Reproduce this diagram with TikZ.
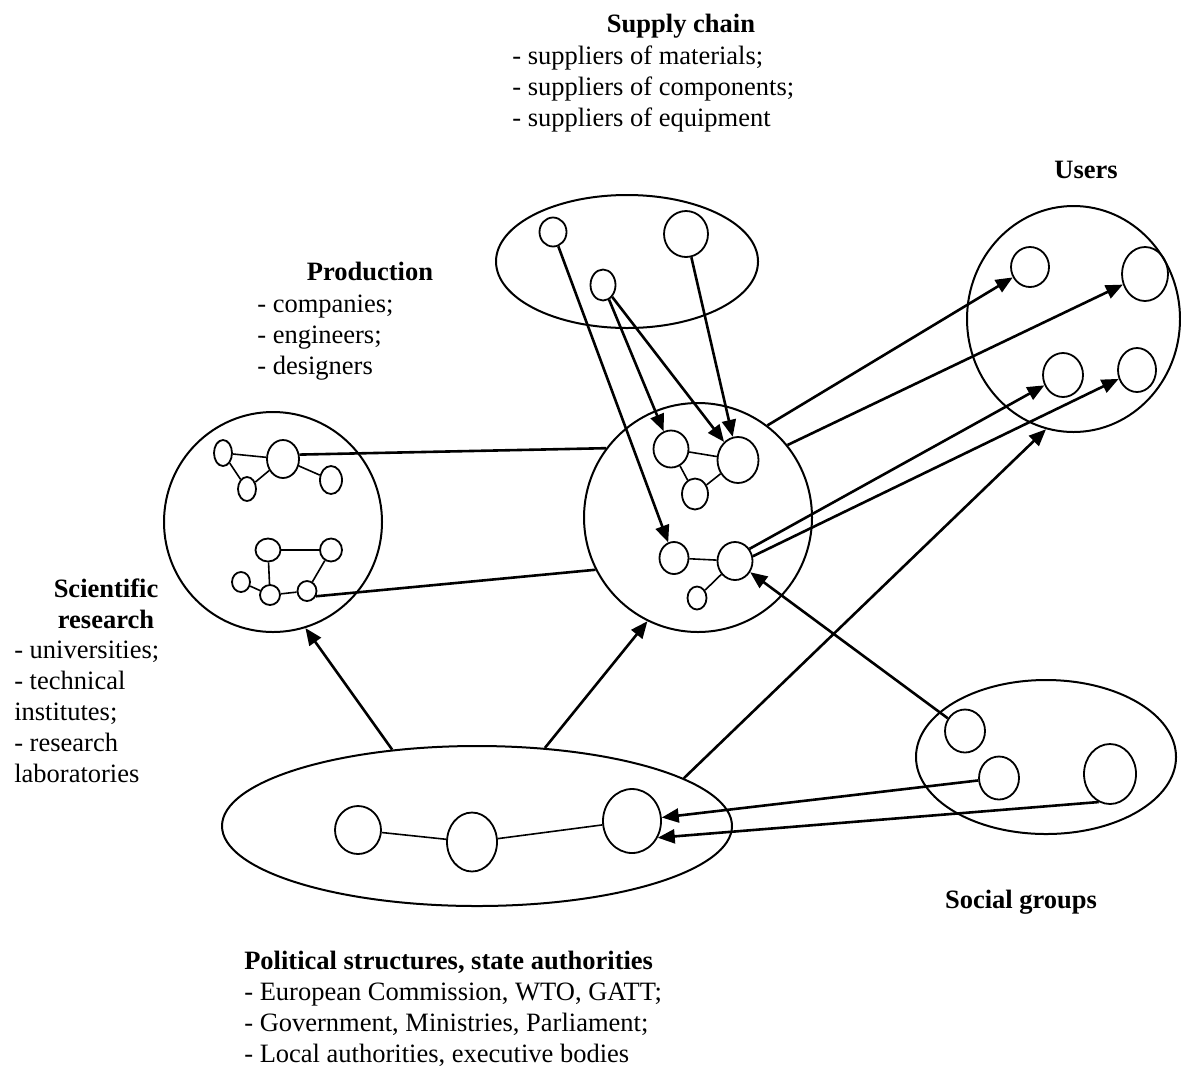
\documentclass[tikz,border=0pt]{standalone}
\usepackage{fontspec}
\setmainfont{Liberation Serif}
\usetikzlibrary{shapes.geometric, arrows.meta}
\tikzset{
  cluster/.style 2 args={draw, ellipse, line width=1pt, inner sep=0pt, minimum width=#1pt, minimum height=#2pt},
  actor/.style 2 args={draw, ellipse, line width=0.9pt, inner sep=0pt, minimum width=#1pt, minimum height=#2pt},
  headtxt/.style={font=\fontsize{13.25}{15.5}\selectfont\bfseries, inner sep=0pt},
  listtxt/.style={font=\fontsize{13.25}{15.5}\selectfont, inner sep=0pt, align=left, anchor=north west},
  link/.style={-, line width=0.8pt},
}
\begin{document}
\begin{tikzpicture}[x=0.5pt, y=-0.5pt, ->, >={Triangle[length=8.5pt, width=7pt]}, line width=1.3pt]
    \useasboundingbox (0,0) rectangle (1181,1066);

    \node[cluster={131}{66.5}] (supply) at (627,261.5) {};
    \node[cluster={106.5}{113}] (users) at (1073.5,319) {};
    \node[cluster={109}{110}] (prod) at (273,522) {};
    \node[cluster={114}{114.5}] (central) at (698,517.5) {};
    \node[cluster={255}{80}] (pol) at (477,826) {};
    \node[cluster={130}{77}] (social) at (1046,757) {};

    \node[actor={13.5}{14.5}] (s1) at (553,232) {};
    \node[actor={22}{23}] (s2) at (686,234) {};
    \node[actor={12.5}{15.5}] (s3) at (603,285) {};

    \node[actor={19}{20}] (u1) at (1030,267) {};
    \node[actor={23}{27}] (u2) at (1145,274) {};
    \node[actor={20}{22}] (u3) at (1063,375) {};
    \node[actor={19}{22}] (u4) at (1137,370) {};

    \node[actor={9}{13}] (p1) at (223,453) {};
    \node[actor={16}{19}] (p2) at (283,459) {};
    \node[actor={9}{12}] (p3) at (247,489) {};
    \node[actor={11}{14}] (p4) at (331,480) {};
    \node[actor={12.5}{11.5}] (p5) at (268,550) {};
    \node[actor={11}{11.5}] (p6) at (331,550) {};
    \node[actor={9}{10}] (p7) at (241,582) {};
    \node[actor={10}{10}] (p8) at (270,595) {};
    \node[actor={9.5}{10}] (p9) at (307,591) {};

    \node[actor={17.5}{18.5}] (c1) at (671,449) {};
    \node[actor={20.5}{23}] (c2) at (738,460) {};
    \node[actor={13}{15.5}] (c3) at (695,494) {};
    \node[actor={14.5}{16}] (c4) at (674,558) {};
    \node[actor={17.5}{19}] (c5) at (735,561) {};
    \node[actor={9.5}{11.5}] (c6) at (697,598) {};

    \node[actor={23}{24}] (q1) at (358,830) {};
    \node[actor={25}{29.5}] (q2) at (472,842) {};
    \node[actor={29}{32}] (q3) at (632,821) {};

    \node[actor={20}{21.5}] (g1) at (965,731) {};
    \node[actor={20}{21.5}] (g2) at (999,778) {};
    \node[actor={26}{30}] (g3) at (1110,774) {};

    \node[headtxt, anchor=base] (supplyhd) at (681,32) {Supply chain};
    \node[listtxt] (supplyls) at (511,45) {- suppliers of materials;\\- suppliers of components;\\- suppliers of equipment};
    \node[headtxt, anchor=base] (usershd) at (1086,178) {Users};
    \node[headtxt, anchor=base] (prodhd) at (370,280) {Production};
    \node[listtxt] (prodls) at (256,294) {- companies;\\- engineers;\\- designers};
    \node[headtxt, align=center] (scihd) at (106,604) {Scientific\\research};
    \node[listtxt] (scils) at (13,640) {- universities;\\- technical\\institutes;\\- research\\laboratories};
    \node[headtxt, anchor=base] (socialhd) at (1021,908) {Social groups};
    \node[listtxt] (polls) at (243,950) {\textbf{Political structures, state authorities}\\- European Commission, WTO, GATT;\\- Government, Ministries, Parliament;\\- Local authorities, executive bodies};

    \path
    (p1) edge[link] (p2)
    (p1) edge[link] (p3)
    (p3) edge[link] (p2)
    (p2) edge[link] (p4)
    (p5) edge[link] (p6)
    (p5) edge[link] (p8)
    (p6) edge[link] (p9)
    (p7) edge[link] (p8)
    (p8) edge[link] (p9)
    (c1) edge[link] (c2)
    (c1) edge[link] (c3)
    (c3) edge[link] (c2)
    (c4) edge[link] (c5)
    (c5) edge[link] (c6)
    (q1) edge[link] (q2)
    (q2) edge[link] (q3);

    \path
    (p2.15) edge[-] (central.143)
    (p9.-30) edge[-] (central.207)
    (s1) edge (c4)
    (s3) edge (c1)
    (s3) edge (c2)
    (s2) edge (c2)
    (central.53) edge (u1)
    (central.39) edge (u2)
    (c5.40) edge (u3)
    (c5.15) edge (u4)
    (pol.138.5) edge (prod.-73)
    (pol.49) edge (central.244)
    (pol.13.5) edge (users.256)
    (g1) edge (c5)
    (g2) edge (q3)
    (g3.248) edge (q3.-33);
\end{tikzpicture}
\end{document}
